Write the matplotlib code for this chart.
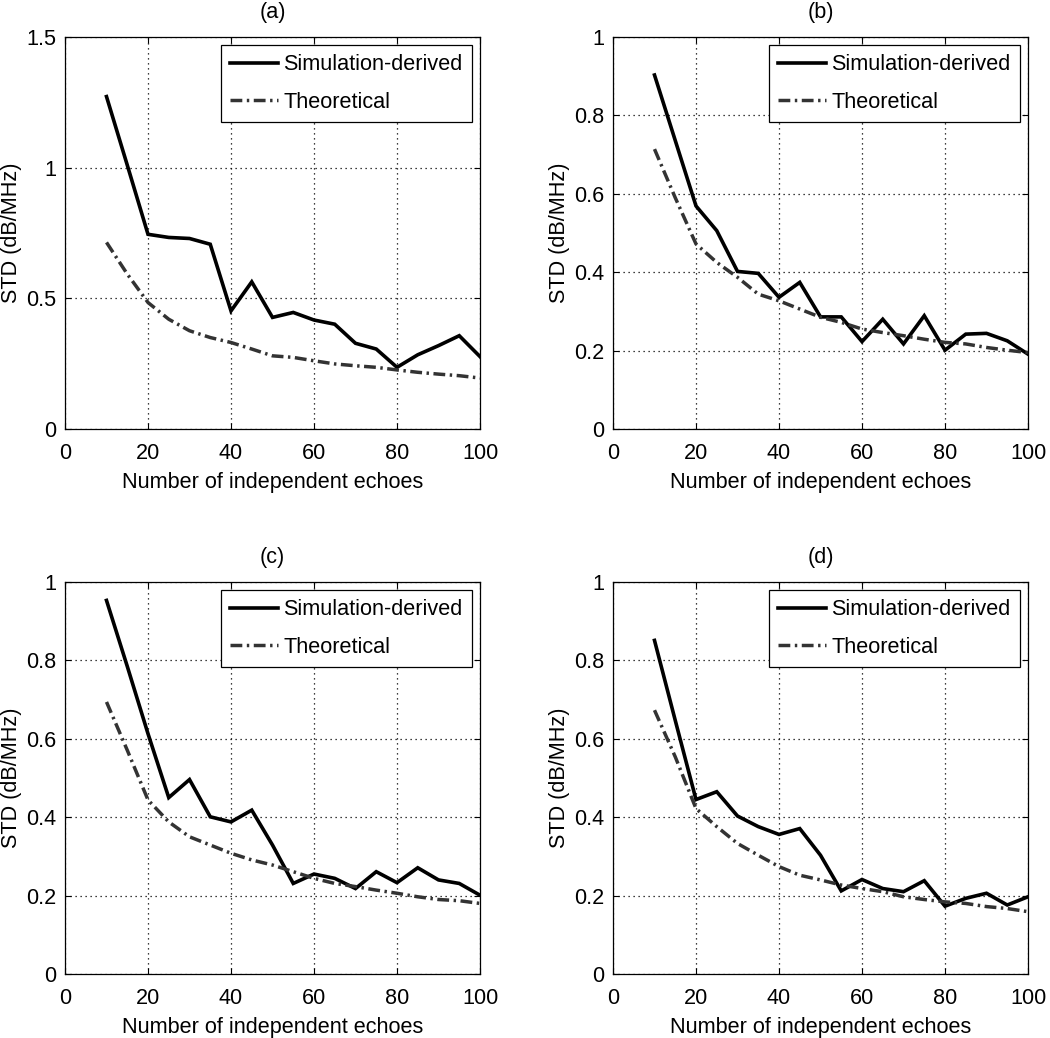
import numpy as np
import matplotlib
matplotlib.use('Agg')
import matplotlib.pyplot as plt

plt.rcParams['font.family'] = ['Liberation Sans', 'DejaVu Sans']

# number of independent echoes
echoes = [10, 15, 20, 25, 30, 35, 40, 45, 50, 55, 60, 65, 70, 75, 80, 85, 90, 95, 100]

# (a)
sim_a = [1.272, 1.01, 0.745, 0.733, 0.729, 0.707, 0.452, 0.563, 0.427, 0.446, 0.417,
         0.401, 0.328, 0.306, 0.236, 0.284, 0.319, 0.357, 0.277]
theo_a = [0.714, 0.593, 0.484, 0.420, 0.376, 0.350, 0.331, 0.306, 0.280, 0.274, 0.261,
          0.249, 0.242, 0.236, 0.226, 0.217, 0.210, 0.204, 0.195]
# (b)
sim_b = [0.903, 0.736, 0.569, 0.506, 0.402, 0.397, 0.336, 0.374, 0.286, 0.286, 0.223,
         0.280, 0.217, 0.289, 0.201, 0.242, 0.244, 0.225, 0.191]
theo_b = [0.714, 0.590, 0.472, 0.425, 0.387, 0.344, 0.327, 0.306, 0.285, 0.272, 0.255,
          0.246, 0.238, 0.229, 0.221, 0.217, 0.208, 0.201, 0.195]
# (c)
sim_c = [0.953, 0.785, 0.613, 0.450, 0.496, 0.401, 0.388, 0.418, 0.329, 0.231, 0.255,
         0.244, 0.218, 0.261, 0.233, 0.271, 0.240, 0.231, 0.201]
theo_c = [0.694, 0.571, 0.444, 0.388, 0.350, 0.329, 0.308, 0.291, 0.278, 0.261, 0.244,
          0.231, 0.223, 0.214, 0.206, 0.197, 0.190, 0.187, 0.180]
# (d)
sim_d = [0.851, 0.647, 0.445, 0.465, 0.403, 0.376, 0.356, 0.371, 0.303, 0.212, 0.241,
         0.218, 0.210, 0.238, 0.173, 0.193, 0.206, 0.176, 0.197]
theo_d = [0.673, 0.554, 0.422, 0.376, 0.333, 0.303, 0.274, 0.252, 0.240, 0.227, 0.218,
          0.210, 0.197, 0.190, 0.184, 0.180, 0.172, 0.167, 0.159]

titles = ['(a)', '(b)', '(c)', '(d)']
xticks = [0, 20, 40, 60, 80, 100]
yticks_a = [0, 0.5, 1, 1.5]
ylabels_a = ['0', '0.5', '1', '1.5']
yticks_bcd = [0, 0.2, 0.4, 0.6, 0.8, 1]
ylabels_bcd = ['0', '0.2', '0.4', '0.6', '0.8', '1']

fs = 15.6
fig = plt.figure(figsize=(10.5, 10.38), dpi=100)

W, H = 1050.0, 1038.0
pos = [(65, 37), (613, 37), (65, 582), (613, 582)]  # left, top in pixels
aw, ah = 415, 392

panels = [(sim_a, theo_a, yticks_a, ylabels_a),
          (sim_b, theo_b, yticks_bcd, ylabels_bcd),
          (sim_c, theo_c, yticks_bcd, ylabels_bcd),
          (sim_d, theo_d, yticks_bcd, ylabels_bcd)]

for i, (sim, theo, yt, yl) in enumerate(panels):
    left, top = pos[i]
    ax = fig.add_axes([left / W, 1 - (top + ah) / H, aw / W, ah / H])
    ax.plot(echoes, sim, color='black', lw=2.6, solid_joinstyle='miter',
            label='Simulation-derived', zorder=3)
    ax.plot(echoes, theo, color='#333333', lw=2.5, linestyle=(0, (3.4, 1.3, 0.7, 1.3)),
            label='Theoretical', zorder=3)

    ax.set_xlim(0, 100)
    ax.set_ylim(yt[0], yt[-1])
    ax.set_xticks(xticks)
    ax.set_xticklabels([str(t) for t in xticks])
    ax.set_yticks(yt)
    ax.set_yticklabels(yl)
    ax.tick_params(direction='in', length=4, width=0.8, top=True, right=True,
                   labelsize=fs, colors='black')
    ax.tick_params(axis='x', pad=10)
    ax.tick_params(axis='y', pad=6)
    ax.grid(True, color='black', linestyle=(0, (1, 3)), linewidth=0.9)
    for s in ax.spines.values():
        s.set_linewidth(0.9)

    ax.set_xlabel('Number of independent echoes', fontsize=fs, labelpad=6)
    ax.set_ylabel('STD (dB/MHz)', fontsize=fs, labelpad=3.5)
    ax.set_title(titles[i], fontsize=fs, pad=14)

    leg = ax.legend(loc='upper right', fontsize=fs, fancybox=False, framealpha=1,
                    edgecolor='black', handlelength=2.2, handletextpad=0.25,
                    borderpad=0.45, labelspacing=0.75, borderaxespad=0.35)
    leg.get_frame().set_linewidth(0.9)

plt.savefig('out.png', dpi=100)
